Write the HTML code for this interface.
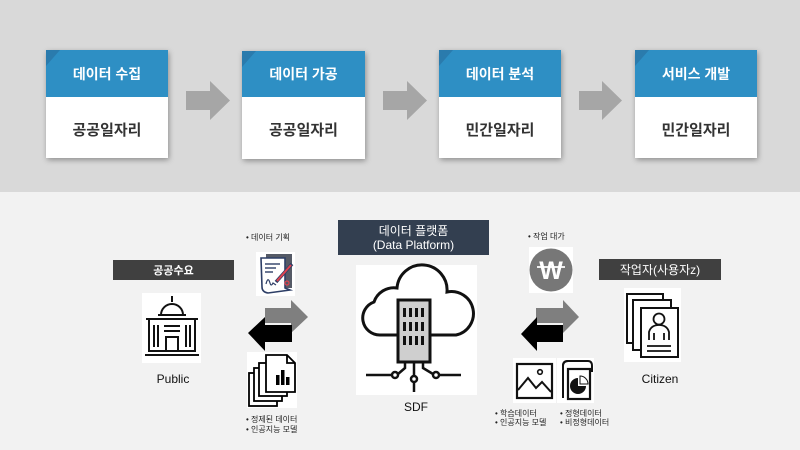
<!DOCTYPE html>
<html>
<head>
<meta charset="utf-8">
<style>
  html,body{margin:0;padding:0;background:#f2f2f2;}
  body{width:800px;height:450px;overflow:hidden;}
  svg{display:block;}
  text{font-family:"Liberation Sans","Noto Sans CJK KR",sans-serif;}
</style>
</head>
<body>
<svg width="800" height="450" viewBox="0 0 800 450" xmlns="http://www.w3.org/2000/svg">
  <defs>
    <filter id="sh" x="-20%" y="-20%" width="140%" height="140%">
      <feGaussianBlur in="SourceAlpha" stdDeviation="3"/>
      <feOffset dx="1" dy="2" result="b"/>
      <feComponentTransfer><feFuncA type="linear" slope="0.35"/></feComponentTransfer>
      <feMerge><feMergeNode/><feMergeNode in="SourceGraphic"/></feMerge>
    </filter>
  </defs>

  <!-- backgrounds -->
  <rect x="0" y="0" width="800" height="192" fill="#d9d9d9"/>
  <rect x="0" y="192" width="800" height="258" fill="#f2f2f2"/>

  <!-- top process boxes -->
  <g filter="url(#sh)">
    <rect x="46" y="50" width="122" height="108" fill="#ffffff"/>
    <rect x="242" y="51" width="123" height="108" fill="#ffffff"/>
    <rect x="439" y="50" width="122" height="108" fill="#ffffff"/>
    <rect x="635" y="50" width="122" height="108" fill="#ffffff"/>
  </g>
  <rect x="46" y="50" width="122" height="47" fill="#2e8fc4"/>
  <rect x="242" y="51" width="123" height="46" fill="#2e8fc4"/>
  <rect x="439" y="50" width="122" height="47" fill="#2e8fc4"/>
  <rect x="635" y="50" width="122" height="47" fill="#2e8fc4"/>
  <polygon points="46,50 60,50 46,66" fill="#2a7bad"/>
  <polygon points="242,51 256,51 242,67" fill="#2a7bad"/>
  <polygon points="439,50 453,50 439,66" fill="#2a7bad"/>
  <polygon points="635,50 649,50 635,66" fill="#2a7bad"/>

  <g font-size="14" font-weight="bold" fill="#ffffff" text-anchor="middle">
    <text x="107" y="79">데이터 수집</text>
    <text x="303.5" y="79">데이터 가공</text>
    <text x="500" y="79">데이터 분석</text>
    <text x="696" y="79">서비스 개발</text>
  </g>
  <g font-size="15" font-weight="bold" fill="#333333" text-anchor="middle">
    <text x="107" y="135">공공일자리</text>
    <text x="303.5" y="135">공공일자리</text>
    <text x="500" y="135">민간일자리</text>
    <text x="696" y="135">민간일자리</text>
  </g>

  <!-- top arrows -->
  <g fill="#a6a6a6">
    <polygon points="186,91 210,91 210,81 230,100.5 210,120 210,110 186,110"/>
    <polygon points="383,91 407,91 407,81 427,100.5 407,120 407,110 383,110"/>
    <polygon points="579,91 602,91 602,81 622,100.5 602,120 602,110 579,110"/>
  </g>

  <!-- ============ bottom section ============ -->

  <!-- 공공수요 bar -->
  <rect x="113" y="260" width="121" height="20" fill="#404040"/>
  <text x="173.5" y="274" font-size="11" font-weight="bold" fill="#ffffff" text-anchor="middle">공공수요</text>

  <!-- Public building icon -->
  <rect x="142" y="293" width="59" height="70" fill="#ffffff"/>
  <g stroke="#111" stroke-width="2" fill="none">
    <line x1="172" y1="296" x2="172" y2="302"/>
    <path d="M161 315 A11 11 0 0 1 183 315"/>
    <line x1="158" y1="315" x2="186" y2="315"/>
    <rect x="149" y="319" width="46" height="32"/>
    <line x1="146" y1="319" x2="198" y2="319"/>
    <line x1="154" y1="325" x2="154" y2="347"/>
    <line x1="158" y1="325" x2="158" y2="347"/>
    <line x1="186" y1="325" x2="186" y2="347"/>
    <line x1="190" y1="325" x2="190" y2="347"/>
    <line x1="164" y1="326" x2="180" y2="326"/>
    <line x1="164" y1="331" x2="180" y2="331"/>
    <rect x="166" y="337" width="12" height="14"/>
    <line x1="145" y1="355" x2="199" y2="355"/>
  </g>
  <text x="173" y="383" font-size="12" fill="#111" text-anchor="middle">Public</text>

  <!-- 데이터 기획 -->
  <text x="246" y="240" font-size="8" fill="#222">• 데이터 기획</text>
  <rect x="256" y="252" width="39" height="44" fill="#ffffff"/>
  <g>
    <rect x="266" y="254" width="26" height="34" fill="#555a66"/>
    <path d="M261 258 L285 258 L285 288 L290 290 L268 293 Q262 292 262 287 Z" fill="#ffffff" stroke="#2d3e66" stroke-width="1.6"/>
    <line x1="265" y1="264" x2="280" y2="264" stroke="#2d3e66" stroke-width="1.4"/>
    <line x1="265" y1="268" x2="276" y2="268" stroke="#2d3e66" stroke-width="1.4"/>
    <line x1="265" y1="272" x2="273" y2="272" stroke="#2d3e66" stroke-width="1.4"/>
    <path d="M266 284 Q268 276 270 283 Q271 287 273 283 L276 285" fill="none" stroke="#2d3e66" stroke-width="1.2"/>
    <line x1="276" y1="282" x2="292" y2="264" stroke="#2d3e66" stroke-width="3.5"/>
    <line x1="277" y1="281" x2="291" y2="265" stroke="#e0434f" stroke-width="2"/>
    <circle cx="287" cy="283" r="2" fill="none" stroke="#e0434f" stroke-width="1.2"/>
  </g>

  <!-- left arrows -->
  <polygon points="265,308 291,308 291,300 308,317 291,333 291,323 265,323" fill="#7f7f7f"/>
  <polygon points="248,333 265,317 265,325 292,325 292,342 265,342 265,351" fill="#000000"/>

  <!-- stack of documents icon -->
  <rect x="247" y="352" width="50" height="56" fill="#ffffff"/>
  <g stroke="#000" stroke-width="1.8" fill="#ffffff">
    <rect x="249" y="373" width="28" height="33"/>
    <rect x="254" y="368" width="28" height="33"/>
    <rect x="259" y="363" width="28" height="33"/>
    <path d="M266 355 L287 355 L295 363 L295 392 L266 392 Z"/>
    <path d="M287 355 L287 363 L295 363" fill="none"/>
  </g>
  <g fill="#000">
    <rect x="276" y="375" width="3.5" height="10"/>
    <rect x="281" y="370" width="3.5" height="15"/>
    <rect x="286" y="377" width="3.5" height="8"/>
  </g>
  <text x="246" y="422" font-size="8" fill="#222">• 정제된 데이터</text>
  <text x="246" y="432" font-size="8" fill="#222">• 인공지능 모델</text>

  <!-- data platform header -->
  <rect x="338" y="220" width="151" height="35" fill="#333f50"/>
  <text x="413.5" y="235" font-size="12" fill="#ffffff" text-anchor="middle">데이터 플랫폼</text>
  <text x="413.5" y="249" font-size="12" fill="#ffffff" text-anchor="middle">(Data Platform)</text>

  <!-- SDF cloud icon -->
  <rect x="356" y="265" width="121" height="130" fill="#ffffff"/>
  <path d="M380 335 A17 17 0 0 1 374 302 A21 21 0 0 1 397 288 A25 25 0 0 1 447 292 A20 20 0 0 1 456 335 Z" fill="none" stroke="#111" stroke-width="3"/>
  <rect x="398" y="300" width="32" height="62" fill="#cfcfcf" stroke="#111" stroke-width="3"/>
  <g fill="#111">
    <rect x="403" y="308" width="3" height="9"/><rect x="409" y="308" width="3" height="9"/><rect x="415" y="308" width="3" height="9"/><rect x="421" y="308" width="3" height="9"/>
    <rect x="403" y="322" width="3" height="9"/><rect x="409" y="322" width="3" height="9"/><rect x="415" y="322" width="3" height="9"/><rect x="421" y="322" width="3" height="9"/>
    <rect x="403" y="336" width="3" height="9"/><rect x="409" y="336" width="3" height="9"/><rect x="415" y="336" width="3" height="9"/><rect x="421" y="336" width="3" height="9"/>
  </g>
  <g stroke="#111" stroke-width="2.5" fill="none">
    <path d="M405 362 L405 368 L398 374"/>
    <line x1="366" y1="375" x2="393" y2="375"/>
    <line x1="414" y1="362" x2="414" y2="392"/>
    <path d="M423 362 L423 368 L433 374"/>
    <line x1="439" y1="375" x2="461" y2="375"/>
    <circle cx="395" cy="375" r="3" fill="#ffffff"/>
    <circle cx="414" cy="379" r="3" fill="#ffffff"/>
    <circle cx="436" cy="375" r="3" fill="#ffffff"/>
  </g>
  <text x="416" y="411" font-size="12" fill="#111" text-anchor="middle">SDF</text>

  <!-- 작업 대가 -->
  <text x="528" y="239" font-size="8" fill="#222">• 작업 대가</text>
  <rect x="529" y="247" width="44" height="46" fill="#ffffff"/>
  <circle cx="551" cy="270" r="21.5" fill="#777777"/>
  <text x="551" y="279" font-size="25" font-weight="bold" fill="#ffffff" text-anchor="middle" font-family="Liberation Serif, serif">W</text>
  <line x1="537" y1="267" x2="565" y2="267" stroke="#ffffff" stroke-width="1.8"/>

  <!-- right arrows -->
  <polygon points="536,308 563,308 563,300 579,317 563,333 563,323 536,323" fill="#7f7f7f"/>
  <polygon points="521,334 537,317 537,325 563,325 563,342 537,342 537,351" fill="#000000"/>

  <!-- image & chart icons -->
  <rect x="513" y="358" width="43" height="45" fill="#ffffff"/>
  <rect x="517" y="364" width="35" height="34" fill="none" stroke="#111" stroke-width="2.2"/>
  <path d="M518 390 L528 378 L536 388 L542 382 L551 392" fill="none" stroke="#111" stroke-width="2"/>
  <circle cx="540" cy="372" r="2.3" fill="none" stroke="#111" stroke-width="1.6"/>

  <rect x="557" y="358" width="37" height="45" fill="#ffffff"/>
  <path d="M563 398 L563 366 Q563 361 568 361 L588 361 Q592 361 592 366 L592 372" fill="none" stroke="#111" stroke-width="2"/>
  <path d="M568 361 Q563 361 563 366" fill="none" stroke="#111" stroke-width="2"/>
  <rect x="568" y="369" width="22" height="30" fill="#ffffff" stroke="#111" stroke-width="2.2"/>
  <path d="M578 386 L578 378 A8 8 0 1 0 586 386 Z" fill="#111"/>
  <path d="M580 384 L580 376 A8 8 0 0 1 588 384 Z" fill="none" stroke="#111" stroke-width="1"/>

  <text x="495" y="416" font-size="8" fill="#222">• 학습데이터</text>
  <text x="495" y="425" font-size="8" fill="#222">• 인공지능 모델</text>
  <text x="560" y="416" font-size="8" fill="#222">• 정형데이터</text>
  <text x="560" y="425" font-size="8" fill="#222">• 비정형데이터</text>

  <!-- 작업자 bar -->
  <rect x="599" y="259" width="122" height="21" fill="#404040"/>
  <text x="660" y="274" font-size="12" fill="#ffffff" text-anchor="middle">작업자(사용자z)</text>

  <!-- citizen icon -->
  <rect x="624" y="288" width="57" height="74" fill="#ffffff"/>
  <g stroke="#111" stroke-width="2" fill="#ffffff">
    <rect x="627" y="294" width="36" height="49"/>
    <rect x="633" y="300" width="38" height="50"/>
    <rect x="641" y="308" width="37" height="49"/>
  </g>
  <g stroke="#111" stroke-width="1.8" fill="none">
    <circle cx="659" cy="319" r="5.5"/>
    <path d="M649 340 L649 332 Q651 325 659 325 Q667 325 669 332 L669 340"/>
    <line x1="654" y1="333" x2="654" y2="340"/>
    <line x1="664" y1="333" x2="664" y2="340"/>
    <line x1="647" y1="346" x2="671" y2="346"/>
    <line x1="647" y1="351" x2="671" y2="351"/>
  </g>
  <text x="660" y="383" font-size="12" fill="#111" text-anchor="middle">Citizen</text>
</svg>
</body>
</html>
